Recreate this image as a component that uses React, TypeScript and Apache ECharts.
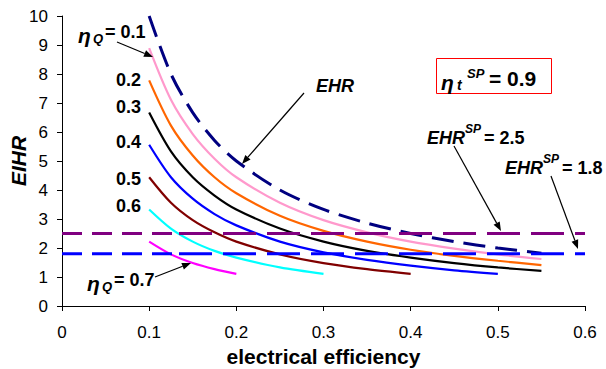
import React, { useEffect, useRef } from "react";
import * as echarts from "echarts";

// ---------- data ----------
const effX = [0.1, 0.125, 0.15, 0.175, 0.2, 0.25, 0.3, 0.35, 0.4, 0.45, 0.5, 0.55];
const ehrValues = [10, 8, 6.67, 5.71, 5, 4, 3.33, 2.86, 2.5, 2.22, 2, 1.82];
const eihrQ01 = [8.89, 7.11, 5.93, 5.08, 4.44, 3.56, 2.96, 2.54, 2.22, 1.98, 1.78, 1.62];
const eihrQ02 = [7.78, 6.22, 5.19, 4.44, 3.89, 3.11, 2.59, 2.22, 1.94, 1.73, 1.56, 1.41];
const eihrQ03 = [6.67, 5.33, 4.44, 3.81, 3.33, 2.67, 2.22, 1.9, 1.67, 1.48, 1.33, 1.21];
const eihrQ04 = [5.56, 4.44, 3.7, 3.17, 2.78, 2.22, 1.85, 1.59, 1.39, 1.23, 1.11];
const eihrQ05 = [4.44, 3.56, 2.96, 2.54, 2.22, 1.78, 1.48, 1.27, 1.11];
const eihrQ06 = [3.33, 2.67, 2.22, 1.9, 1.67, 1.33, 1.11];
const eihrQ07 = [2.22, 1.78, 1.48, 1.27, 1.11];
const ehrSP = [2.5, 1.8];
const spanX = [0, 0.6];
const qLabels = ["0.2", "0.3", "0.4", "0.5", "0.6"];

// ---------- styles ----------
const FONT = '"Liberation Sans", Arial, sans-serif';
const curveColors = ["#FF99CC", "#FF6600", "#000000", "#0000FF", "#800000", "#00FFFF", "#FF00FF"];
const spColors = ["#800080", "#0000FF"];
const DASH_SWITCH_X = 0.1342;

const zip = (xs: number[], ys: number[]) => ys.map((y, i) => [xs[i], y]);

function arrow(x1: number, y1: number, x2: number, y2: number) {
  const head = 9, w = 3.5;
  const dx = x2 - x1, dy = y2 - y1;
  const L = Math.hypot(dx, dy);
  const ux = dx / L, uy = dy / L;
  const bx = x2 - ux * head, by = y2 - uy * head;
  return [
    { type: "line", z: 100, shape: { x1, y1, x2: bx, y2: by }, style: { stroke: "#000", lineWidth: 1.2 } },
    {
      type: "polygon", z: 100,
      shape: { points: [[x2, y2], [bx - uy * w, by + ux * w], [bx + uy * w, by - ux * w]] },
      style: { fill: "#000" },
    },
  ];
}

function txt(text: string, x: number, y: number, size: number, opts: any = {}) {
  const align = opts.align || "left";
  return {
    type: "text", z: 100, x, y, rotation: opts.rotation || 0,
    style: {
      text, fill: "#000",
      font: `${opts.italic ? "italic " : ""}bold ${size}px ${FONT}`,
      align, textAlign: align, verticalAlign: "middle", textVerticalAlign: "middle",
    },
  };
}

export default function App() {
  const ref = useRef<HTMLDivElement>(null);
  useEffect(() => {
    if (!ref.current) return;
    const chart = echarts.init(ref.current, undefined, { renderer: "svg" });
    const eihrSets = [eihrQ01, eihrQ02, eihrQ03, eihrQ04, eihrQ05, eihrQ06, eihrQ07];
    const series: any[] = [];
    eihrSets.forEach((ys, i) => {
      series.push({
        type: "line", data: zip(effX, ys), symbol: "none", smooth: 0.3,
        lineStyle: { color: curveColors[i], width: 2.2 },
      });
    });
    series.push({
      type: "line", data: zip(effX, ehrValues), symbol: "none", smooth: 0.3,
      lineStyle: { color: "#000080", width: 3, type: [22, 10] },
    });
    ehrSP.forEach((v, i) => {
      series.push({
        type: "line", data: [[spanX[0], v], [DASH_SWITCH_X, v]], symbol: "none",
        lineStyle: { color: spColors[i], width: 3, type: [20, 10] },
      });
      series.push({
        type: "line", data: [[DASH_SWITCH_X, v], [spanX[1], v]], symbol: "none",
        lineStyle: { color: spColors[i], width: 3, type: [33, 11] },
      });
    });

    const qLabelY = [80, 107, 142, 179, 206];
    const graphics: any[] = [
      // y-axis title
      txt("EIHR", 18, 161, 21, { italic: true, align: "center", rotation: Math.PI / 2 }),
      // eta_Q = 0.1
      txt("η", 78, 35, 21, { italic: true }),
      txt("Q", 93, 38, 13, { italic: true }),
      txt("= 0.1", 105, 32, 18),
      ...arrow(117, 42, 153, 57),
      ...qLabels.map((l, i) => txt(l, 141, qLabelY[i], 18, { align: "right" })),
      // eta_Q = 0.7
      txt("η", 87, 283, 21, { italic: true }),
      txt("Q", 102, 286, 13, { italic: true }),
      txt("= 0.7", 114, 280, 18),
      ...arrow(155, 277, 191, 263),
      // EHR
      txt("EHR", 316, 86, 18, { italic: true }),
      ...arrow(304, 93, 242, 164),
      // box
      {
        type: "rect", z: 100, shape: { x: 436.5, y: 58.5, width: 115, height: 35 },
        style: { fill: "#fff", stroke: "#FF0000", lineWidth: 1 },
      },
      txt("η", 441, 82, 21, { italic: true }),
      txt("t", 457, 85, 14, { italic: true }),
      txt("SP", 467, 73, 13, { italic: true }),
      txt("= 0.9", 489, 78, 21),
      // EHR^SP = 2.5
      txt("EHR", 427, 138, 18, { italic: true }),
      txt("SP", 465, 129, 12, { italic: true }),
      txt("= 2.5", 484, 138, 18),
      ...arrow(454, 146, 501, 231),
      // EHR^SP = 1.8
      txt("EHR", 505, 168, 18, { italic: true }),
      txt("SP", 543, 159, 12, { italic: true }),
      txt("= 1.8", 562, 168, 18),
      ...arrow(551, 176, 578, 249),
    ];

    chart.setOption({
      animation: false,
      grid: {
        left: 62, top: 16, width: 523, height: 290, containLabel: false,
        outerBoundsMode: "none",
      },
      xAxis: {
        type: "value", min: 0, max: 0.6, interval: 0.1,
        name: "electrical efficiency", nameLocation: "middle", nameGap: 36,
        nameTextStyle: { fontFamily: FONT, fontWeight: "bold", fontSize: 21, color: "#000" },
        axisLine: { lineStyle: { color: "#000", width: 1 } },
        axisTick: { length: 5, lineStyle: { color: "#000" } },
        axisLabel: { fontFamily: FONT, fontSize: 17, color: "#000", margin: 18 },
        splitLine: { show: false },
      },
      yAxis: {
        type: "value", min: 0, max: 10, interval: 1,
        axisLine: { show: true, lineStyle: { color: "#000", width: 1 } },
        axisTick: { show: true, length: 5, lineStyle: { color: "#000" } },
        axisLabel: { fontFamily: FONT, fontSize: 17, color: "#000", margin: 14 },
        splitLine: { show: false },
      },
      series,
      graphic: graphics,
    });
    return () => chart.dispose();
  }, []);
  return (
    <div
      ref={ref}
      style={{ position: "fixed", left: 0, top: 0, width: 606, height: 369, background: "#fff" }}
    />
  );
}
